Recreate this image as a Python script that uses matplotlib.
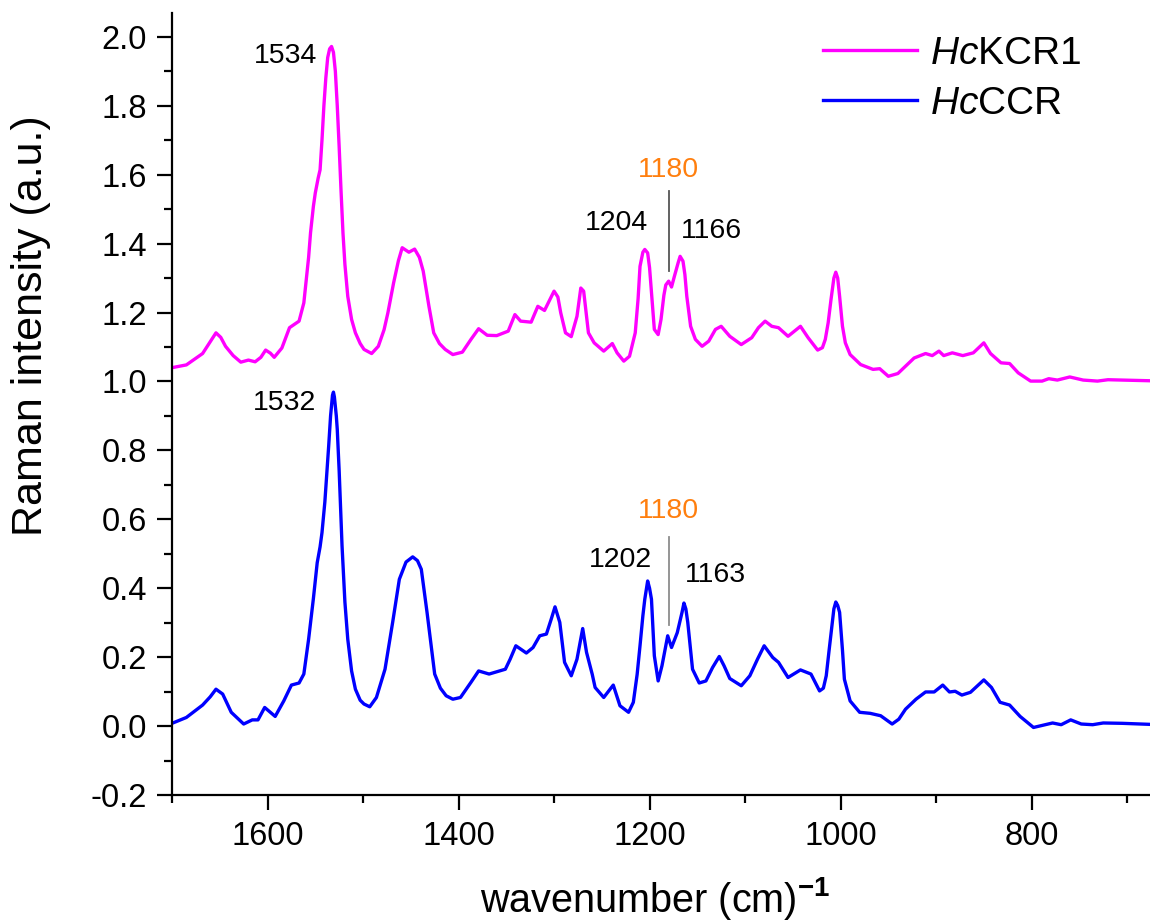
import numpy as np
import matplotlib
matplotlib.use("Agg")
import matplotlib.pyplot as plt
from matplotlib.ticker import MultipleLocator

plt.rcParams['font.family'] = ['Liberation Sans', 'DejaVu Sans']
plt.rcParams['mathtext.fontset'] = 'custom'
plt.rcParams['mathtext.rm'] = 'Liberation Sans'
plt.rcParams['mathtext.it'] = 'Liberation Sans:italic'
plt.rcParams['mathtext.bf'] = 'Liberation Sans:bold'
plt.rcParams['axes.unicode_minus'] = False

# HcKCR1 spectrum (offset by +1)
wn_kcr = [1700, 1685, 1668, 1660, 1654, 1649, 1644, 1636, 1628, 1620, 1613, 1607, 1602,
          1597, 1593, 1585, 1577, 1567, 1562, 1557, 1555, 1552, 1550, 1547, 1545, 1543,
          1541, 1539, 1537, 1535, 1533, 1531, 1529, 1527, 1525, 1523, 1521, 1519, 1516,
          1512, 1508, 1503, 1499, 1491, 1484, 1478, 1474, 1468, 1463, 1459, 1452, 1446,
          1441, 1437, 1431, 1426, 1420, 1414, 1406, 1396, 1387, 1379, 1370, 1360, 1348,
          1341, 1335, 1324, 1317, 1310, 1304, 1300, 1296, 1293, 1288, 1282, 1276, 1272,
          1269, 1266, 1264, 1258, 1248, 1239, 1234, 1227, 1221, 1215, 1212, 1210, 1207,
          1205, 1202, 1200, 1198, 1195, 1191, 1188, 1185, 1183, 1180, 1177, 1174, 1170,
          1168, 1165, 1163, 1161, 1157, 1152, 1145, 1138, 1131, 1125, 1116, 1104, 1093,
          1086, 1079, 1072, 1065, 1055, 1042, 1034, 1024, 1019, 1016, 1013, 1010, 1007,
          1005, 1003, 1001, 998, 995, 990, 979, 966, 959, 950, 940, 923, 911, 904, 897,
          892, 883, 872, 861, 850, 843, 832, 823, 814, 801, 789, 782, 773, 760, 746, 731,
          720, 704, 676]
int_kcr = [1.040, 1.048, 1.081, 1.115, 1.141, 1.128, 1.102, 1.075, 1.056, 1.062, 1.057,
           1.070, 1.091, 1.082, 1.070, 1.097, 1.156, 1.175, 1.228, 1.360, 1.431, 1.508,
           1.547, 1.590, 1.614, 1.700, 1.800, 1.880, 1.940, 1.965, 1.972, 1.955, 1.900,
           1.800, 1.680, 1.550, 1.430, 1.340, 1.247, 1.180, 1.141, 1.110, 1.093, 1.081,
           1.102, 1.150, 1.199, 1.286, 1.350, 1.388, 1.375, 1.384, 1.360, 1.320, 1.218,
           1.141, 1.110, 1.093, 1.078, 1.085, 1.122, 1.153, 1.134, 1.133, 1.146, 1.194,
           1.175, 1.172, 1.218, 1.206, 1.240, 1.262, 1.245, 1.199, 1.141, 1.130, 1.189,
           1.271, 1.262, 1.190, 1.141, 1.112, 1.088, 1.110, 1.083, 1.059, 1.073, 1.141,
           1.240, 1.334, 1.375, 1.383, 1.373, 1.330, 1.257, 1.151, 1.136, 1.180, 1.250,
           1.280, 1.291, 1.274, 1.305, 1.345, 1.363, 1.349, 1.310, 1.247, 1.160, 1.122,
           1.102, 1.117, 1.151, 1.160, 1.131, 1.107, 1.127, 1.156, 1.175, 1.160, 1.156,
           1.131, 1.160, 1.127, 1.091, 1.098, 1.122, 1.170, 1.238, 1.300, 1.317, 1.300,
           1.247, 1.160, 1.112, 1.078, 1.049, 1.035, 1.037, 1.015, 1.023, 1.068, 1.081,
           1.075, 1.088, 1.075, 1.083, 1.075, 1.083, 1.112, 1.081, 1.054, 1.052, 1.025,
           1.001, 1.001, 1.008, 1.004, 1.013, 1.004, 1.001, 1.005, 1.004, 1.002]

# HcCCR spectrum
wn_ccr = [1700, 1685, 1668, 1660, 1654, 1647, 1638, 1625, 1616, 1610, 1603, 1597, 1592,
          1583, 1575, 1567, 1562, 1557, 1552, 1548, 1545, 1543, 1540, 1538, 1536, 1534,
          1532, 1531, 1530, 1528, 1527, 1525, 1522, 1519, 1516, 1512, 1508, 1503, 1499,
          1493, 1486, 1477, 1469, 1462, 1455, 1448, 1443, 1439, 1433, 1425, 1419, 1413,
          1406, 1398, 1387, 1379, 1368, 1351, 1346, 1340, 1329, 1322, 1315, 1308, 1303,
          1299, 1294, 1289, 1282, 1276, 1270, 1266, 1260, 1257, 1248, 1238, 1231, 1222,
          1217, 1213, 1210, 1207, 1205, 1202, 1200, 1198, 1195, 1191, 1187, 1181, 1177,
          1171, 1166, 1164, 1162, 1160, 1155, 1148, 1141, 1134, 1127, 1122, 1116, 1104,
          1095, 1087, 1080, 1071, 1065, 1055, 1042, 1031, 1022, 1018, 1015, 1012, 1009,
          1007, 1005, 1003, 1001, 998, 996, 990, 980, 969, 958, 946, 939, 932, 921, 911,
          902, 893, 886, 880, 873, 864, 850, 842, 833, 823, 812, 798, 787, 778, 769, 759,
          748, 736, 725, 705, 676]
int_ccr = [0.008, 0.025, 0.061, 0.085, 0.107, 0.093, 0.040, 0.006, 0.018, 0.018, 0.054,
           0.040, 0.028, 0.073, 0.119, 0.125, 0.151, 0.252, 0.370, 0.474, 0.520, 0.561,
           0.650, 0.730, 0.812, 0.900, 0.960, 0.969, 0.955, 0.900, 0.861, 0.740, 0.523,
           0.360, 0.252, 0.160, 0.107, 0.075, 0.064, 0.056, 0.083, 0.165, 0.301, 0.426,
           0.476, 0.491, 0.480, 0.455, 0.330, 0.151, 0.110, 0.088, 0.078, 0.083, 0.127,
           0.160, 0.151, 0.165, 0.194, 0.233, 0.212, 0.228, 0.262, 0.267, 0.310, 0.346,
           0.301, 0.185, 0.146, 0.194, 0.283, 0.214, 0.150, 0.112, 0.083, 0.119, 0.059,
           0.040, 0.069, 0.150, 0.233, 0.320, 0.368, 0.421, 0.400, 0.368, 0.204, 0.131,
           0.175, 0.262, 0.228, 0.271, 0.330, 0.357, 0.340, 0.301, 0.165, 0.125, 0.131,
           0.170, 0.202, 0.175, 0.138, 0.117, 0.146, 0.194, 0.233, 0.199, 0.185, 0.141,
           0.163, 0.151, 0.102, 0.110, 0.146, 0.220, 0.291, 0.340, 0.360, 0.350, 0.330,
           0.220, 0.136, 0.073, 0.040, 0.037, 0.030, 0.006, 0.020, 0.049, 0.078, 0.099,
           0.099, 0.119, 0.099, 0.101, 0.090, 0.098, 0.134, 0.112, 0.069, 0.061, 0.028,
           -0.004, 0.003, 0.009, 0.004, 0.018, 0.006, 0.004, 0.009, 0.008, 0.005]

# peak labels: (text, x, y, ha)
peak_labels = [("1534", 1548, 1.944, "right"), ("1532", 1549, 0.938, "right"),
               ("1204", 1235, 1.460, "center"), ("1166", 1135, 1.436, "center"),
               ("1202", 1231, 0.481, "center"), ("1163", 1131, 0.439, "center")]
marker_1180 = [(1180, 1.614, 1.320, 1.554, "#555555"), (1180, 0.623, 0.293, 0.550, "#8c8c8c")]

fig = plt.figure(figsize=(11.5, 9.24), dpi=100)
ax = fig.add_axes([0.1496, 0.1396, 0.8504, 0.8463])

l1, = ax.plot(wn_kcr, int_kcr, color="#ff00ff", lw=2.4, solid_joinstyle="round")
l2, = ax.plot(wn_ccr, int_ccr, color="#0000ff", lw=2.4, solid_joinstyle="round")

for txt, x, y, ha in peak_labels:
    ax.text(x, y, txt, ha=ha, va="center", fontsize=20.5)
for x, ty, y0, y1, c in marker_1180:
    ax.text(x, ty, "1180", ha="center", va="center", fontsize=20.5, color="#ff7f0e")
    ax.plot([x, x], [y0, y1], color=c, lw=1.3)

ax.set_xlim(1700, 676)
ax.set_ylim(-0.2, 2.069)
ax.xaxis.set_major_locator(MultipleLocator(200))
ax.xaxis.set_minor_locator(MultipleLocator(100))
ax.yaxis.set_major_locator(MultipleLocator(0.2))
ax.yaxis.set_minor_locator(MultipleLocator(0.1))
ax.yaxis.set_major_formatter(plt.FormatStrFormatter('%.1f'))

for s in ["top", "right"]:
    ax.spines[s].set_visible(False)
for s in ["left", "bottom"]:
    ax.spines[s].set_linewidth(1.6)
ax.tick_params(which="major", direction="out", length=11, width=1.6, labelsize=23.5)
ax.tick_params(which="minor", direction="out", length=5.5, width=1.6)
ax.tick_params(axis="x", pad=8)
ax.tick_params(axis="y", pad=7)

ax.set_xlabel(r"wavenumber (cm)$^{\mathbf{-1}}$", fontsize=28.5)
ax.xaxis.set_label_coords(0.494, -0.102)
ax.set_ylabel("Raman intensity (a.u.)", fontsize=31)
ax.yaxis.set_label_coords(-0.124, 0.60)

ax.legend([l1, l2], [r"$\mathit{Hc}$KCR1", r"$\mathit{Hc}$CCR"], loc="upper left",
          bbox_to_anchor=(823 / 1150, 1 - 36 / 924), bbox_transform=fig.transFigure,
          frameon=False, fontsize=28, handlelength=2.42, handletextpad=0.33,
          borderpad=0, borderaxespad=0, labelspacing=0.36)

fig.savefig("out.png", dpi=100)
